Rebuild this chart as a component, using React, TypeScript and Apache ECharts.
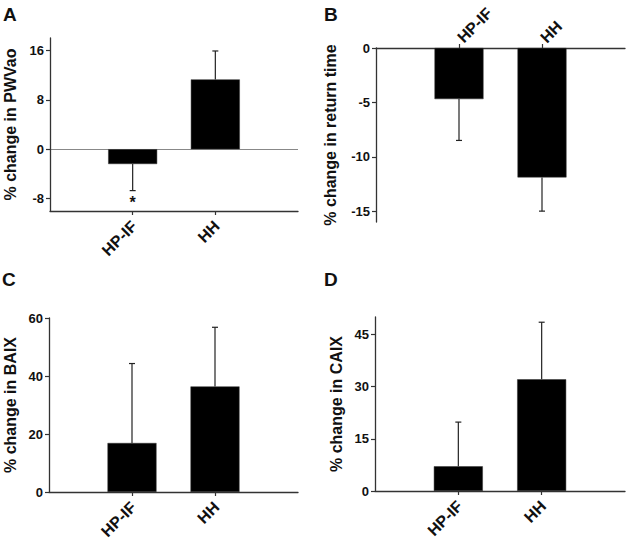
import React, { useEffect, useRef } from "react";
import * as echarts from "echarts";

const categories = ["HP-IF", "HH"];

// Panel A: % change in PWVao
const meanA = [-2.4, 11.3];
const sdA = [4.3, 4.6];
const marksA = ["*", ""];
const ticksA = [-8, 0, 8, 16];
const rangeA = [-10, 18];

// Panel B: % change in return time
const meanB = [-4.7, -11.9];
const sdB = [3.8, 3.1];
const ticksB = [-15, -10, -5, 0];
const rangeB = [-16, 0];

// Panel C: % change in BAIX
const meanC = [16.9, 36.4];
const sdC = [27.4, 20.4];
const ticksC = [0, 20, 40, 60];
const rangeC = [0, 60];

// Panel D: % change in CAIX
const meanD = [7.1, 32.1];
const sdD = [12.7, 16.4];
const ticksD = [0, 15, 30, 45];
const rangeD = [0, 50];

const FONT = "'Liberation Sans', Arial, sans-serif";
const LABEL_FONT = "bold 16px Arial";
const AXIS_COLOR = "#333";

const padded = ["", ...categories, ""];

function textWidth(text: string, font: string): number {
  const c = document.createElement("canvas").getContext("2d");
  if (!c) return text.length * 9;
  c.font = font;
  return c.measureText(text).width;
}

function App() {
  const ref = useRef<HTMLDivElement>(null);

  useEffect(() => {
    if (!ref.current) return;
    const chart = echarts.init(ref.current, null, { renderer: "svg" });

    const panels = [
      { name: "% change in PWVao", mean: meanA, sd: sdA, marks: marksA, ticks: ticksA, range: rangeA, top: false, grid: { left: 50, top: 38, width: 248, height: 173 }, gap: 32, zero: true },
      { name: "% change in return time", mean: meanB, sd: sdB, marks: ["", ""], ticks: ticksB, range: rangeB, top: true, grid: { left: 376, top: 48, width: 249, height: 174 }, gap: 38, zero: false },
      { name: "% change in BAIX", mean: meanC, sd: sdC, marks: ["", ""], ticks: ticksC, range: rangeC, top: false, grid: { left: 49, top: 318, width: 249, height: 174 }, gap: 31, zero: false },
      { name: "% change in CAIX", mean: meanD, sd: sdD, marks: ["", ""], ticks: ticksD, range: rangeD, top: false, grid: { left: 375, top: 317, width: 250, height: 174 }, gap: 31, zero: false },
    ];

    const showIdx = (i: number) => i === 1 || i === 2;

    const grid: any[] = [];
    const xAxis: any[] = [];
    const yAxis: any[] = [];
    const series: any[] = [];

    panels.forEach((p, k) => {
      grid.push({ ...p.grid, containLabel: false });
      xAxis.push({
        type: "category",
        gridIndex: k,
        data: padded,
        boundaryGap: false,
        position: p.top ? "top" : "bottom",
        axisLine: { onZero: false, lineStyle: { color: AXIS_COLOR, width: 1.3 } },
        axisTick: { show: true, interval: (i: number) => showIdx(i), length: 4, lineStyle: { color: AXIS_COLOR, width: 1.2 } },
        axisLabel: { show: false },
        splitLine: { show: false },
      });
      yAxis.push({
        type: "value",
        gridIndex: k,
        min: p.range[0],
        max: p.range[1],
        name: p.name,
        nameLocation: "middle",
        nameGap: p.gap,
        nameRotate: 90,
        nameTextStyle: { fontFamily: FONT, fontWeight: "bold", fontSize: 16, color: "#111" },
        axisLine: { show: true, lineStyle: { color: AXIS_COLOR, width: 1.3 } },
        axisTick: { show: true, length: 4, customValues: p.ticks, lineStyle: { color: AXIS_COLOR, width: 1.2 } },
        axisLabel: { customValues: p.ticks, fontFamily: FONT, fontWeight: "bold", fontSize: 13, color: "#111", margin: 6 },
        splitLine: { show: false },
      });

      const barData = [null, ...p.mean, null];
      series.push({
        type: "bar",
        xAxisIndex: k,
        yAxisIndex: k,
        data: barData,
        barWidth: 49,
        itemStyle: { color: "#000", borderColor: "#333", borderWidth: 0.5 },
        silent: true,
        markLine: p.zero
          ? {
              silent: true,
              symbol: "none",
              label: { show: false },
              lineStyle: { color: "#888", width: 1, type: "solid" },
              data: [{ yAxis: 0 }],
              z: 0,
            }
          : undefined,
      });

      const errData = p.mean.map((m, i) => [i + 1, m, m + (m < 0 ? -p.sd[i] : p.sd[i])]);
      const marks = p.marks;
      series.push({
        type: "custom",
        xAxisIndex: k,
        yAxisIndex: k,
        data: errData,
        silent: true,
        clip: false,
        z: 3,
        renderItem: (params: any, api: any) => {
          const x = api.value(0);
          const m = api.value(1);
          const e = api.value(2);
          const p0 = api.coord([x, m]);
          const p1 = api.coord([x, e]);
          const half = 3;
          const st = { stroke: "#222", lineWidth: 1.2 };
          const children: any[] = [
            { type: "line", shape: { x1: p0[0], y1: p0[1], x2: p1[0], y2: p1[1] }, style: st },
            { type: "line", shape: { x1: p1[0] - half, y1: p1[1], x2: p1[0] + half, y2: p1[1] }, style: st },
          ];
          const mk = marks[params.dataIndex];
          if (mk) {
            children.push({
              type: "text",
              x: p1[0],
              y: p1[1] + 4,
              style: { text: mk, fill: "#111", font: `bold 16px ${FONT}`, align: "center", verticalAlign: "top" },
            });
          }
          return { type: "group", children };
        },
      });
    });

    const titleStyle = { fontFamily: FONT, fontWeight: "bold", fontSize: 19, color: "#111" };

    const option: any = {
      animation: false,
      backgroundColor: "#fff",
      title: [
        { text: "A", left: 3, top: 5, textStyle: titleStyle, padding: 0 },
        { text: "B", left: 324, top: 5, textStyle: titleStyle, padding: 0 },
        { text: "C", left: 2, top: 270, textStyle: titleStyle, padding: 0 },
        { text: "D", left: 324, top: 270, textStyle: titleStyle, padding: 0 },
      ],
      grid,
      xAxis,
      yAxis,
      series,
    };
    chart.setOption(option);

    // 45° category labels, centred on the point where the rotated label sits next to each tick
    const D = Math.SQRT1_2;
    const elements: any[] = [];
    panels.forEach((p, k) => {
      const axisVal = p.top ? p.range[1] : p.range[0];
      categories.forEach((c) => {
        const pt = chart.convertToPixel({ xAxisIndex: k, yAxisIndex: k } as any, [c, axisVal] as any) as any;
        if (!pt) return;
        const half = textWidth(c, LABEL_FONT) / 2;
        const cx = p.top ? pt[0] + 1 + half * D : pt[0] + 1.5 - half * D;
        const cy = p.top ? pt[1] - 8 - half * D : pt[1] + 12.5 + half * D;
        elements.push({
          type: "group",
          x: cx,
          y: cy,
          rotation: Math.PI / 4,
          children: [
            {
              type: "text",
              x: 0,
              y: 0,
              style: { text: c, fill: "#111", font: LABEL_FONT, align: "center", verticalAlign: "middle" },
            },
          ],
        });
      });
    });
    chart.setOption({ graphic: { elements } });

    return () => chart.dispose();
  }, []);

  return <div ref={ref} style={{ position: "absolute", left: 0, top: 0, width: 626, height: 550 }} />;
}

export default App;
